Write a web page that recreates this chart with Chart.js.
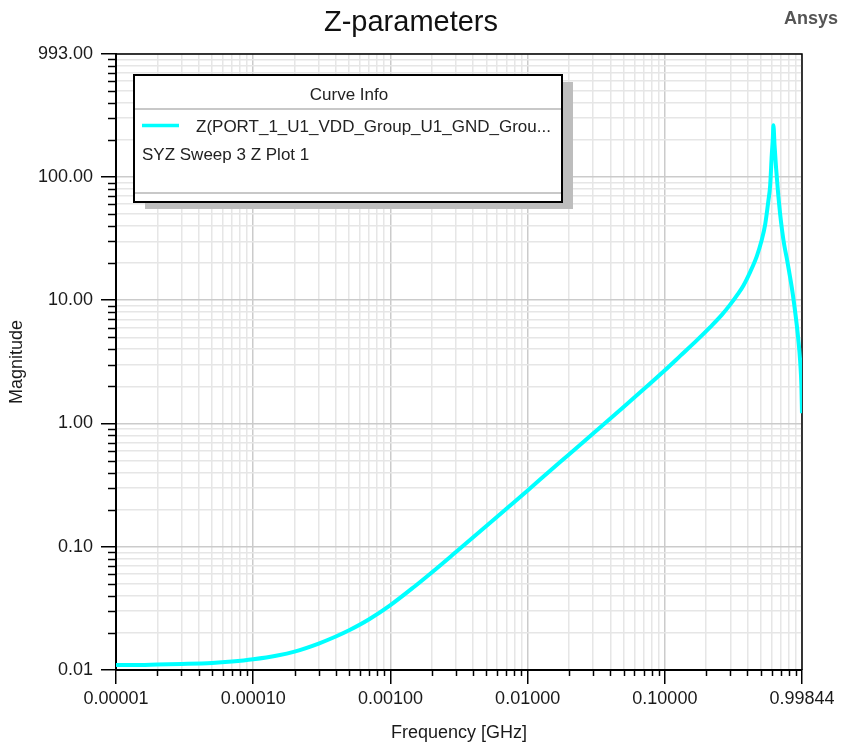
<!DOCTYPE html>
<html>
<head>
<meta charset="utf-8">
<script src="https://cdn.jsdelivr.net/npm/chart.js@4.4.1/dist/chart.umd.min.js"></script>
<style>
  html, body { margin: 0; padding: 0; background: #fff; }
</style>
</head>
<body>
<canvas id="zplot" width="841" height="745"></canvas>
<script>
// Sweep frequencies (GHz) and |Z| of the VDD/GND port pair
const freqGHz = [
  0.00001, 0.000015, 0.00002, 0.00003, 0.00005, 0.00007,
  0.0001, 0.00015, 0.0002, 0.0003, 0.0004, 0.0005, 0.0007,
  0.001, 0.0015, 0.002, 0.003, 0.005, 0.007,
  0.01, 0.015, 0.02, 0.03, 0.05, 0.07,
  0.1, 0.13, 0.17, 0.214, 0.26, 0.299, 0.34, 0.373, 0.418, 0.468, 0.505, 0.538,
  0.568, 0.585, 0.601, 0.612, 0.618, 0.630, 0.646, 0.668, 0.691, 0.715, 0.740,
  0.774, 0.804, 0.841, 0.874, 0.915, 0.943, 0.967, 0.988, 0.99844
];
const zMag = [
  0.0110, 0.0110, 0.0111, 0.0112, 0.0114, 0.0117,
  0.0122, 0.0131, 0.0141, 0.0164, 0.0187, 0.0210, 0.0258,
  0.0336, 0.0476, 0.0618, 0.0905, 0.147, 0.203,
  0.286, 0.425, 0.560, 0.830, 1.36, 1.89,
  2.70, 3.55, 4.70, 6.05, 7.60, 9.20, 11.2, 13.1, 16.9, 22.8, 30.0, 41.0,
  64.0, 85.0, 150, 205, 262, 180, 119, 74.8, 50.5, 36.8, 28.3,
  21.8, 17.1, 12.7, 9.42, 6.25, 4.55, 3.25, 2.04, 1.21
];

// axis ticks: labelled decades plus the 2..9 subdivisions
const xMajorTicks = [0.00001, 0.0001, 0.001, 0.01, 0.1, 0.99844];
const xTickLabels = ['0.00001', '0.00010', '0.00100', '0.01000', '0.10000', '0.99844'];
const yMajorTicks = [0.01, 0.1, 1, 10, 100, 993];
const yTickLabels = ['0.01', '0.10', '1.00', '10.00', '100.00', '993.00'];
const minorSteps = [2, 3, 4, 5, 6, 7, 8, 9];

const curveName = 'Z(PORT_1_U1_VDD_Group_U1_GND_Grou...';
const plotName = 'SYZ Sweep 3 Z Plot 1';

const FONT = "'Liberation Sans', Arial, sans-serif";

function logTicks(majors, lo, hi) {
  const out = majors.map(v => ({ value: v, main: true }));
  for (let d = Math.floor(Math.log10(lo)); d <= Math.floor(Math.log10(hi)); d++) {
    minorSteps.forEach(m => {
      const v = m * Math.pow(10, d);
      if (v > lo * 1.0001 && v < hi * 0.9999) out.push({ value: v, main: false });
    });
  }
  return out.sort((a, b) => a.value - b.value);
}

function labelFor(majors, labels) {
  return function (value) {
    const i = majors.findIndex(m => Math.abs(m - value) / m < 1e-6);
    return i >= 0 ? labels[i] : '';
  };
}

const isMain = ctx => ctx.tick && ctx.tick.main;

const frame = {
  id: 'frame',
  beforeDatasetsDraw(chart) {
    const { ctx, chartArea: a } = chart;
    ctx.save();
    ctx.strokeStyle = '#000';
    ctx.lineWidth = 1.5;
    ctx.beginPath();
    ctx.moveTo(a.left, a.top);
    ctx.lineTo(a.right, a.top);
    ctx.lineTo(a.right, a.bottom);
    ctx.stroke();

    // short minor tick marks outside the axes
    const xs = chart.scales.x, ys = chart.scales.y;
    xs.ticks.forEach(t => {
      if (t.main) return;
      const px = Math.round(xs.getPixelForValue(t.value)) + 0.5;
      ctx.beginPath();
      ctx.moveTo(px, a.bottom);
      ctx.lineTo(px, a.bottom + 6);
      ctx.stroke();
    });
    ys.ticks.forEach(t => {
      if (t.main) return;
      const py = Math.round(ys.getPixelForValue(t.value)) + 0.5;
      ctx.beginPath();
      ctx.moveTo(a.left - 8, py);
      ctx.lineTo(a.left, py);
      ctx.stroke();
    });
    ctx.restore();
  },
  afterDraw(chart) {
    const { ctx } = chart;
    ctx.save();

    // heading and vendor mark
    ctx.fillStyle = '#111';
    ctx.font = '29px ' + FONT;
    ctx.textAlign = 'center';
    ctx.textBaseline = 'alphabetic';
    ctx.fillText('Z-parameters', 411, 31);
    ctx.fillStyle = '#555';
    ctx.font = 'bold 18px ' + FONT;
    ctx.textAlign = 'right';
    ctx.fillText('Ansys', 838, 24);

    // curve info box
    const bx = 134, by = 75, bw = 428, bh = 127;
    ctx.fillStyle = '#bdbdbd';
    ctx.fillRect(bx + 11, by + 7, bw, bh);
    ctx.fillStyle = '#fff';
    ctx.fillRect(bx, by, bw, bh);
    ctx.strokeStyle = '#c8c8c8';
    ctx.lineWidth = 2;
    ctx.beginPath();
    ctx.moveTo(bx, by + 34); ctx.lineTo(bx + bw, by + 34);
    ctx.moveTo(bx, by + 118); ctx.lineTo(bx + bw, by + 118);
    ctx.stroke();
    ctx.strokeStyle = '#000';
    ctx.lineWidth = 2;
    ctx.strokeRect(bx, by, bw, bh);

    ctx.fillStyle = '#222';
    ctx.font = '17px ' + FONT;
    ctx.textAlign = 'center';
    ctx.textBaseline = 'middle';
    ctx.fillText('Curve Info', 349, 95);

    ctx.strokeStyle = chart.data.datasets[0].borderColor;
    ctx.lineWidth = 3.5;
    ctx.beginPath();
    ctx.moveTo(142, 125.5);
    ctx.lineTo(179, 125.5);
    ctx.stroke();

    ctx.textAlign = 'left';
    ctx.fillText(curveName, 196, 127);
    ctx.fillText(plotName, 142, 155);
    ctx.restore();
  }
};

const points = freqGHz.map((f, i) => ({ x: f, y: zMag[i] }));

const zChart = new Chart(document.getElementById('zplot'), {
  type: 'line',
  data: {
    datasets: [{
      label: curveName,
      data: points,
      borderColor: '#00ffff',
      borderWidth: 4,
      pointRadius: 0,
      cubicInterpolationMode: 'monotone',
      fill: false
    }]
  },
  options: {
    responsive: false,
    animation: false,
    layout: { autoPadding: false, padding: { top: 54, right: 39, left: 0, bottom: 0 } },
    plugins: {
      legend: { display: false },
      title: { display: false },
      tooltip: { enabled: false }
    },
    scales: {
      x: {
        type: 'logarithmic',
        min: xMajorTicks[0],
        max: xMajorTicks[xMajorTicks.length - 1],
        afterBuildTicks: s => { s.ticks = logTicks(xMajorTicks, s.min, s.max); },
        afterFit: s => { s.height = 75; },
        ticks: {
          autoSkip: false,
          maxRotation: 0,
          minRotation: 0,
          padding: 4,
          color: '#1a1a1a',
          font: { family: FONT, size: 18 },
          callback: labelFor(xMajorTicks, xTickLabels)
        },
        grid: {
          color: ctx => isMain(ctx) ? '#cbcbcb' : '#e6e6e6',
          lineWidth: 1.5,
          tickLength: 14,
          tickWidth: 1.5,
          tickColor: ctx => isMain(ctx) ? '#000' : 'rgba(0,0,0,0)'
        },
        border: { display: true, color: '#000', width: 2 },
        title: {
          display: true,
          text: 'Frequency [GHz]',
          color: '#1a1a1a',
          font: { family: FONT, size: 18 },
          padding: { top: 0, bottom: 1 }
        }
      },
      y: {
        type: 'logarithmic',
        min: yMajorTicks[0],
        max: yMajorTicks[yMajorTicks.length - 1],
        afterBuildTicks: s => { s.ticks = logTicks(yMajorTicks, s.min, s.max); },
        afterFit: s => { s.width = 116; },
        ticks: {
          autoSkip: false,
          padding: 8,
          color: '#1a1a1a',
          font: { family: FONT, size: 18 },
          callback: labelFor(yMajorTicks, yTickLabels)
        },
        grid: {
          color: ctx => isMain(ctx) ? '#cbcbcb' : '#e6e6e6',
          lineWidth: 1.5,
          tickLength: 15,
          tickWidth: 1.5,
          tickColor: ctx => isMain(ctx) ? '#000' : 'rgba(0,0,0,0)'
        },
        border: { display: true, color: '#000', width: 2 },
        title: {
          display: true,
          text: 'Magnitude',
          color: '#1a1a1a',
          font: { family: FONT, size: 18 },
          padding: { top: 6, bottom: 0 }
        }
      }
    }
  },
  plugins: [frame]
});
</script>
</body>
</html>
